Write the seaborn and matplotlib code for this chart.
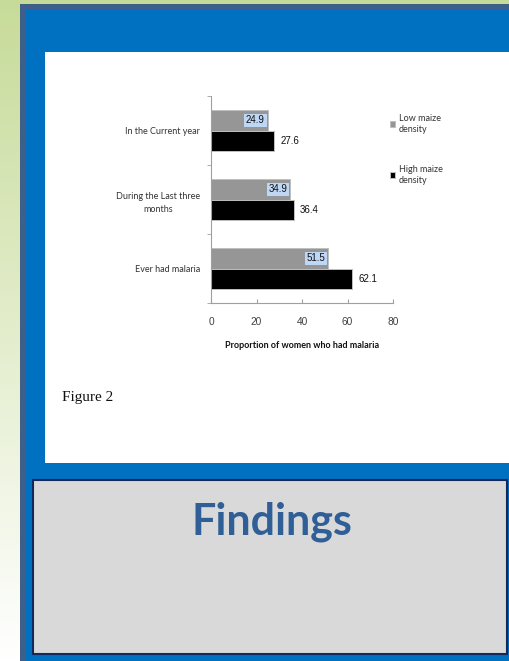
import numpy as np
import pandas as pd
import matplotlib.pyplot as plt
import matplotlib.patches as mpatches
import seaborn as sns

# data
periods = ["In the Current year", "During the Last three\nmonths", "Ever had malaria"]
low_maize = [24.9, 34.9, 51.5]
high_maize = [27.6, 36.4, 62.1]
groups = ["Low maize\ndensity", "High maize\ndensity"]
x_ticks = [0, 20, 40, 60, 80]

df = pd.DataFrame({
    "period": periods * 2,
    "value": low_maize + high_maize,
    "group": [groups[0]] * 3 + [groups[1]] * 3,
})

sns.set_style("white")
plt.rcParams["font.family"] = ["Lato", "DejaVu Sans"]

W, H = 509, 661
fig = plt.figure(figsize=(W / 100, H / 100), dpi=100)


def box(x0, y0, x1, y1, **kw):
    # pixel box (top-left origin) -> figure patch behind the axes
    fig.patches.append(mpatches.Rectangle((x0 / W, 1 - y1 / H), (x1 - x0) / W, (y1 - y0) / H,
                                          transform=fig.transFigure, zorder=-5, **kw))


# green slide background fading to white
bg = fig.add_axes([0, 0, 1, 1], zorder=-10)
t = np.linspace(0, 1, 200)[:, None]
top_c = np.array([0.78, 0.86, 0.60])
bot_c = np.array([1.0, 1.0, 1.0])
grad = (top_c * (1 - t) + bot_c * t)[:, None, :].repeat(2, axis=1)
bg.imshow(grad, aspect="auto", extent=[0, 1, 0, 1])
bg.axis("off")

box(20, 4, 509, 661, facecolor="#3E5F8A", edgecolor="none")
box(26, 10, 509, 661, facecolor="#0070C0", edgecolor="none")
box(45, 52, 509, 463, facecolor="white", edgecolor="none")
box(33, 480, 507, 654, facecolor="#D9D9D9", edgecolor="#14285A", linewidth=1.5)

fig.text(272 / W, 1 - 522 / H, "Findings", ha="center", va="center", fontsize=31,
         fontweight="bold", color="#2F5F96")
fig.text(62 / W, 1 - 398 / H, "Figure 2", ha="left", va="center", fontsize=11,
         family="Liberation Serif", color="#111111")

# chart
ax = fig.add_axes([211 / W, 1 - 303 / H, (393 - 211) / W, (303 - 96) / H])
ax.set_facecolor("none")
sns.barplot(data=df, y="period", x="value", hue="group", orient="h",
            palette={groups[0]: "#969696", groups[1]: "#000000"},
            width=0.58, edgecolor="#BFBFBF", linewidth=0.7, ax=ax)

ax.set_xlim(0, 80)
ax.set_ylim(2.5, -0.5)
ax.set_xticks(x_ticks)
ax.set_xticklabels([str(v) for v in x_ticks], family="Liberation Sans", fontsize=7.3, color="#404040")
ax.tick_params(axis="x", direction="in", length=3, color="#A0A0A0", pad=10, bottom=True)
ax.set_yticks(range(len(periods)))
ax.set_yticklabels(periods, fontsize=6.5, color="#333333", multialignment="center",
                   linespacing=1.6)
ax.tick_params(axis="y", length=0, pad=8)
ax.set_yticks([-0.5, 0.5, 1.5, 2.5], minor=True)
ax.tick_params(axis="y", which="minor", length=3, color="#A0A0A0", left=True)
for s in ["top", "right"]:
    ax.spines[s].set_visible(False)
for s in ["left", "bottom"]:
    ax.spines[s].set_color("#A0A0A0")
    ax.spines[s].set_linewidth(0.8)
ax.set_ylabel("")
ax.set_xlabel("Proportion of women who had malaria", fontsize=6.5, fontweight="bold",
              color="#111111", labelpad=10)

bar_h = 0.58 / 2
for i, (lo, hi) in enumerate(zip(low_maize, high_maize)):
    ax.text(lo - 1.3, i - bar_h / 2, f"{lo}", ha="right", va="center", fontsize=7,
            family="Liberation Sans", color="#111111",
            bbox=dict(boxstyle="square,pad=0.2", facecolor="#BDD7F5", edgecolor="none"))
    ax.text(hi + 2.8, i + bar_h / 2, f"{hi}", ha="left", va="center", fontsize=7,
            family="Liberation Sans", color="#111111")

handles, labels = ax.get_legend_handles_labels()
ax.get_legend().remove()
fig.legend(handles, labels, loc="upper left", bbox_to_anchor=(382 / W, 1 - 106 / H),
           frameon=False, fontsize=6.5, handlelength=0.55, handleheight=0.55,
           handletextpad=0.4, labelspacing=3.5, labelcolor="#333333")

fig.savefig("out.png", dpi=100)
